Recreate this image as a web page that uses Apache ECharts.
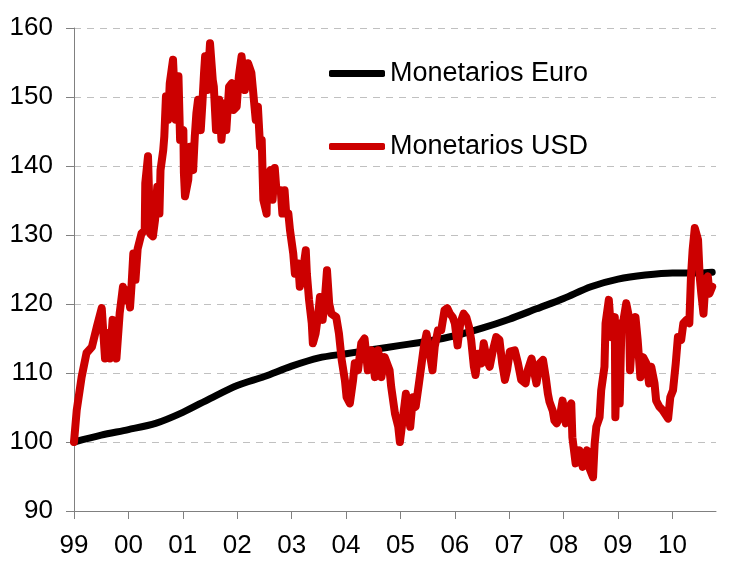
<!DOCTYPE html>
<html>
<head>
<meta charset="utf-8">
<script src="https://cdn.jsdelivr.net/npm/echarts@6/dist/echarts.min.js"></script>
<style>
  html, body { margin: 0; padding: 0; background: #fff; }
  #chart { width: 731px; height: 571px; }
</style>
</head>
<body>
<div id="chart"></div>
<script>
const yearTicks = [1999, 2000, 2001, 2002, 2003, 2004, 2005, 2006, 2007, 2008, 2009, 2010]

const euroYears = [1999.0, 1999.5, 2000.0, 2000.5, 2001.0, 2001.5, 2002.0, 2002.5, 2003.0, 2003.5,
  2004.0, 2004.5, 2005.0, 2005.5, 2006.0, 2006.5, 2007.0, 2007.5, 2008.0, 2008.5,
  2009.0, 2009.5, 2010.0, 2010.5, 2010.73]
const euroValues = [100, 101, 101.8, 102.7, 104.3, 106.3, 108.2, 109.5, 111, 112.2,
  112.8, 113.4, 114, 114.6, 115.4, 116.5, 117.8, 119.3, 120.8, 122.5,
  123.6, 124.2, 124.5, 124.5, 124.6]

const usdYears = [
  1999.00, 1999.05, 1999.14, 1999.23, 1999.33, 1999.42, 1999.51, 1999.57, 1999.63, 1999.66,
  1999.71, 1999.78, 1999.84, 1999.90, 1999.95, 2000.00, 2000.03, 2000.06, 2000.09, 2000.13,
  2000.17, 2000.24, 2000.30, 2000.31, 2000.36, 2000.40, 2000.45, 2000.49, 2000.53, 2000.57,
  2000.59, 2000.64, 2000.66, 2000.69, 2000.73, 2000.76, 2000.82, 2000.87, 2000.92, 2000.95,
  2001.01, 2001.02, 2001.04, 2001.10, 2001.13, 2001.19, 2001.22, 2001.25, 2001.28, 2001.33,
  2001.36, 2001.39, 2001.41, 2001.45, 2001.50, 2001.55, 2001.57, 2001.61, 2001.67, 2001.71,
  2001.77, 2001.80, 2001.85, 2001.90, 2001.93, 2001.99, 2002.03, 2002.08, 2002.14, 2002.20,
  2002.26, 2002.29, 2002.34, 2002.38, 2002.42, 2002.45, 2002.48, 2002.54, 2002.55, 2002.61,
  2002.65, 2002.69, 2002.72, 2002.80, 2002.83, 2002.87, 2002.90, 2002.94, 2002.97, 2003.03,
  2003.06, 2003.12, 2003.15, 2003.21, 2003.26, 2003.28, 2003.32, 2003.37, 2003.39, 2003.44,
  2003.49, 2003.52, 2003.57, 2003.61, 2003.65, 2003.69, 2003.73, 2003.82, 2003.87, 2003.92,
  2003.98, 2004.01, 2004.07, 2004.13, 2004.16, 2004.22, 2004.28, 2004.34, 2004.40, 2004.47,
  2004.53, 2004.59, 2004.65, 2004.71, 2004.80, 2004.83, 2004.90, 2004.96, 2004.99, 2005.04,
  2005.10, 2005.14, 2005.18, 2005.23, 2005.28, 2005.34, 2005.39, 2005.43, 2005.48, 2005.54,
  2005.59, 2005.63, 2005.69, 2005.75, 2005.81, 2005.86, 2005.91, 2005.96, 2006.00, 2006.05,
  2006.10, 2006.16, 2006.21, 2006.26, 2006.30, 2006.35, 2006.38, 2006.43, 2006.49, 2006.53,
  2006.59, 2006.64, 2006.70, 2006.76, 2006.82, 2006.87, 2006.92, 2006.96, 2007.01, 2007.10,
  2007.16, 2007.22, 2007.30, 2007.34, 2007.41, 2007.45, 2007.50, 2007.56, 2007.62, 2007.67,
  2007.71, 2007.74, 2007.80, 2007.83, 2007.87, 2007.93, 2007.98, 2008.04, 2008.10, 2008.14,
  2008.16, 2008.22, 2008.29, 2008.35, 2008.43, 2008.48, 2008.54, 2008.57, 2008.60, 2008.66,
  2008.69, 2008.75, 2008.77, 2008.83, 2008.88, 2008.94, 2008.95, 2009.00, 2009.03, 2009.06,
  2009.10, 2009.15, 2009.20, 2009.22, 2009.27, 2009.32, 2009.36, 2009.41, 2009.46, 2009.52,
  2009.57, 2009.61, 2009.67, 2009.70, 2009.76, 2009.82, 2009.92, 2009.96, 2010.01, 2010.06,
  2010.10, 2010.16, 2010.20, 2010.26, 2010.31, 2010.34, 2010.37, 2010.41, 2010.47, 2010.50,
  2010.53, 2010.57, 2010.61, 2010.65, 2010.68, 2010.73
]
const usdValues = [
  100, 104.6, 109.4, 112.9, 113.8, 116.7, 119.4, 112.1, 115.8, 112.1,
  117.7, 112.1, 118.7, 122.5, 120.5, 122, 119.5, 123, 127.3, 123.5,
  128, 130.2, 130.7, 137.5, 141.4, 130.2, 129.8, 132.2, 137, 133.1,
  139.4, 142.3, 144.3, 150.1, 146.7, 152, 155.4, 146.7, 153, 143.8,
  145.2, 139, 135.6, 138, 142.8, 139.4, 144.3, 147.7, 149.6, 145.2,
  149.1, 153.5, 155.9, 151, 157.8, 152.5, 151.5, 145.2, 149.6, 143.8,
  149.1, 145.2, 151.5, 152, 148.1, 148.6, 153, 155.9, 151, 154.9,
  153.5, 151, 146.7, 148.6, 142.8, 143.8, 135.1, 133.1, 138, 139.4,
  135.1, 139.7, 136.5, 136.5, 133.1, 136.5, 133.1, 133.1, 130.7, 127.3,
  124.4, 125.9, 122.5, 124.9, 127.8, 124.4, 120.6, 117.2, 114.3, 115.7,
  118.6, 121, 117.7, 120.6, 124.9, 120.1, 118.6, 118.1, 115.7, 111.9,
  108.9, 106.5, 105.6, 109, 111.4, 110.4, 114.3, 115, 110.4, 113.3,
  109.4, 113.3, 109.4, 112.3, 110.4, 108, 104.1, 102.2, 100, 103.1,
  107, 104.1, 102.2, 106.5, 105.1, 108.5, 111.4, 113.8, 115.7, 112.8,
  110.4, 113.8, 116.2, 116.2, 119.1, 119.4, 118.6, 118.1, 117.2, 114,
  117.2, 118.6, 118.1, 116.7, 114.8, 110.9, 109.7, 112.8, 111.4, 114.3,
  111.9, 110.9, 113.3, 115.2, 114.8, 111.4, 109, 110.4, 113.1, 113.3,
  111.4, 109, 108.5, 110.4, 112.1, 110.4, 108.5, 111.4, 111.9, 109.4,
  107, 105.8, 104.5, 103.1, 102.7, 103.6, 106, 102.7, 105.1, 105.6,
  100.7, 96.9, 98.8, 96.4, 98.8, 96.1, 94.9, 99.8, 102.2, 103.6,
  107.5, 110.9, 117.2, 120.6, 115.2, 118.1, 103.6, 117.2, 105.6, 116.2,
  117.7, 120.1, 118.1, 110.4, 116.2, 118.1, 114.8, 109.4, 112.3, 111.4,
  108.5, 110.9, 108.5, 106, 105.1, 104.6, 103.4, 106.5, 107.5, 111.4,
  115.2, 114.8, 117.2, 117.7, 117.2, 124, 127.8, 131, 129.3, 124,
  121.5, 118.6, 123.5, 124, 121.5, 122.5
]

const FONT = "'Liberation Sans', Arial, sans-serif"
const chart = echarts.init(document.getElementById('chart'))

const legendBase = {
  orient: 'vertical',
  left: 329,
  padding: 0,
  icon: 'roundRect',
  itemWidth: 56,
  itemHeight: 7,
  textStyle: { fontSize: 27, color: '#000', fontFamily: FONT },
}

chart.setOption({
  animation: false,
  backgroundColor: '#fff',
  grid: { left: 74, right: 15, top: 28, bottom: 60, containLabel: false },
  legend: [
    { ...legendBase, top: 60, data: ['Monetarios Euro'] },
    { ...legendBase, top: 133, data: ['Monetarios USD'] },
  ],
  xAxis: {
    type: 'value',
    min: 1999,
    max: 2010.8,
    interval: 1,
    splitLine: { show: false },
    axisLine: { lineStyle: { color: '#808080', width: 1 } },
    axisTick: { length: 8, customValues: yearTicks, lineStyle: { color: '#808080' } },
    axisLabel: {
      customValues: yearTicks,
      margin: 22,
      fontSize: 26,
      color: '#000',
      fontFamily: FONT,
      formatter: (v) => String(Math.round(v) % 100).padStart(2, '0'),
    },
  },
  yAxis: {
    type: 'value',
    min: 90,
    max: 160,
    interval: 10,
    axisLine: { show: true, lineStyle: { color: '#808080', width: 1 } },
    axisTick: { show: true, length: 8, lineStyle: { color: '#808080' } },
    axisLabel: { margin: 21, fontSize: 26, color: '#000', fontFamily: FONT },
    splitLine: { lineStyle: { color: '#c0c0c0', type: [7, 6], width: 1 } },
  },
  series: [
    {
      name: 'Monetarios Euro',
      type: 'line',
      showSymbol: false,
      smooth: 0.3,
      color: '#000',
      lineStyle: { width: 7, color: '#000', cap: 'round', join: 'round' },
      data: euroYears.map((y, i) => [y, euroValues[i]]),
    },
    {
      name: 'Monetarios USD',
      type: 'line',
      showSymbol: false,
      color: '#cc0000',
      lineStyle: { width: 8, color: '#cc0000', cap: 'round', join: 'round' },
      data: usdYears.map((y, i) => [y, usdValues[i]]),
    },
  ],
})
</script>
</body>
</html>
